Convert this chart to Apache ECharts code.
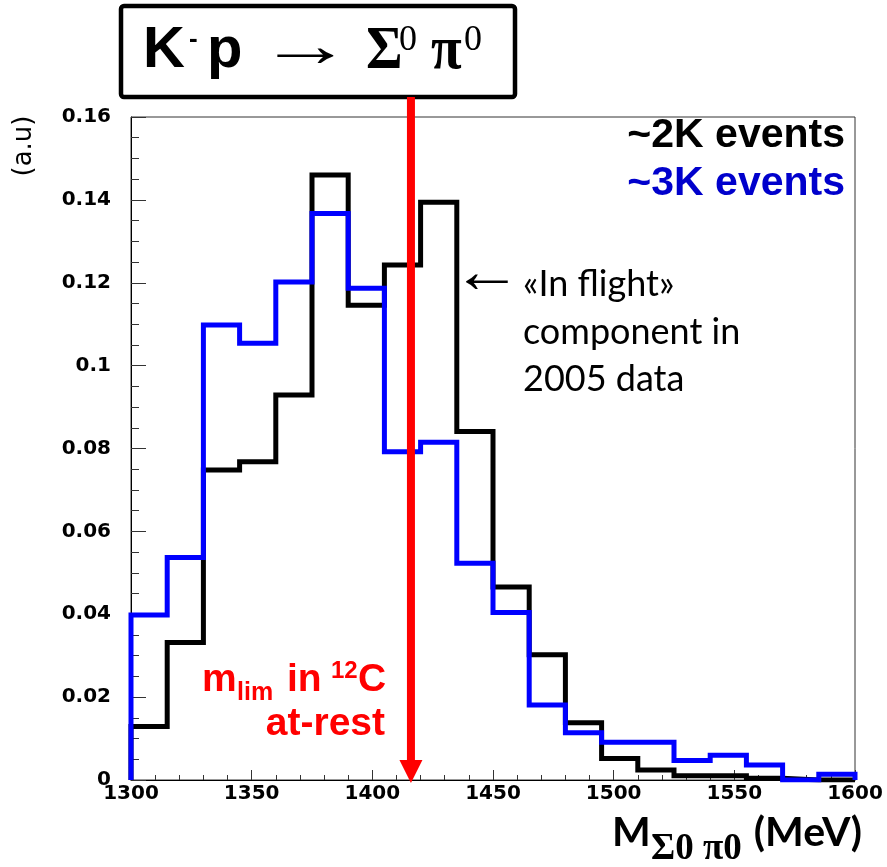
<!DOCTYPE html>
<html><head><meta charset="utf-8">
<script src="https://cdn.jsdelivr.net/npm/echarts@6/dist/echarts.min.js"></script>
<style>html,body{margin:0;padding:0;background:#fff}#c{width:887px;height:867px}</style>
</head><body><div id="c"></div>
<script>
// Histogram bins: left edges (MeV), 15 MeV wide
const binLeftEdges = [1300,1315,1330,1345,1360,1375,1390,1405,1420,1435,1450,1465,1480,1495,1510,1525,1540,1555,1570,1585];
const binWidth = 15;
// ~2K events (black)
const events2K = [0.0129,0.0332,0.0748,0.0768,0.0929,0.1460,0.1146,0.1243,0.1394,0.0841,0.0466,0.0302,0.0138,0.0052,0.0024,0.0010,0.0010,0.0004,0,0];
// ~3K events (blue)
const events3K = [0.0398,0.0537,0.1098,0.1054,0.1202,0.1367,0.1187,0.0792,0.0815,0.0523,0.0404,0.0181,0.0114,0.0091,0.0091,0.0047,0.0060,0.0036,0,0.0014];
// axis ranges / ticks
const xRange = [1300, 1600];
const xTickStep = 50;
const yRange = [0, 0.16];
const yTickStep = 0.02;
// limit mass marker (MeV)
const mLimit = 1416;

function stepData(vals){
  const d = [[binLeftEdges[0], 0]];
  vals.forEach((v,i)=>d.push([binLeftEdges[i], v]));
  const last = binLeftEdges[binLeftEdges.length-1] + binWidth;
  d.push([last, vals[vals.length-1]]);
  d.push([last, 0]);
  return d;
}

const chart = echarts.init(document.getElementById('c'), null, {renderer:'canvas'});
const labelFont = {fontFamily:'DejaVu Sans', fontWeight:'bold', fontSize:20, color:'#000'};
chart.setOption({
  animation:false,
  grid:{left:131, right:32, top:117, bottom:87, show:true, borderColor:'#333', borderWidth:1, backgroundColor:'transparent'},
  xAxis:{type:'value', min:xRange[0], max:xRange[1], interval:xTickStep,
    axisLine:{lineStyle:{color:'#000', width:1}},
    axisTick:{inside:true, length:10, lineStyle:{color:'#333', width:1}},
    minorTick:{show:true, splitNumber:5, length:5, lineStyle:{color:'#333', width:1}},
    splitLine:{show:false},
    axisLabel:Object.assign({margin:4, formatter:v=>String(v)}, labelFont)},
  yAxis:{type:'value', min:yRange[0], max:yRange[1], interval:yTickStep,
    axisLine:{show:true, lineStyle:{color:'#000', width:1}},
    axisTick:{show:true, inside:true, length:15, lineStyle:{color:'#333', width:1}},
    minorTick:{show:true, splitNumber:4, length:8, lineStyle:{color:'#333', width:1}},
    splitLine:{show:false},
    axisLabel:Object.assign({margin:20}, labelFont)},
  series:[
    {name:'~2K events', type:'line', step:'end', data:stepData(events2K), symbol:'none', z:3,
      lineStyle:{color:'#000', width:5, join:'miter', cap:'butt'}},
    {name:'~3K events', type:'line', step:'end', data:stepData(events3K), symbol:'none', z:4,
      lineStyle:{color:'#0000ff', width:5, join:'miter', cap:'butt'}}
  ]
});

const p0 = chart.convertToPixel({xAxisIndex:0, yAxisIndex:0}, [mLimit, 0]);
const ax = p0[0], ay = p0[1];
const red = '#ff0000';
chart.setOption({graphic:[
  // title box
  {type:'rect', shape:{x:121, y:6, width:394, height:91, r:3}, style:{fill:'#fff', stroke:'#000', lineWidth:4.5}, z:50},
  {type:'text', x:143, y:51, style:{text:'K', font:'bold 58px "Liberation Sans"', fill:'#000', verticalAlign:'middle'}, z:51},
  {type:'text', x:189, y:40, style:{text:'-', font:'bold 26px "Liberation Sans"', fill:'#000', verticalAlign:'middle'}, z:51},
  {type:'text', x:207, y:51, style:{text:'p', font:'bold 58px "Liberation Sans"', fill:'#000', verticalAlign:'middle'}, z:51},
  {type:'text', x:305, y:50, scaleX:1.75, scaleY:1.15, style:{text:'→', font:'54px "Liberation Serif"', fill:'#000', align:'center', verticalAlign:'middle'}, z:51},
  {type:'text', x:366, y:52, scaleY:1.08, style:{text:'Σ', font:'bold 56px "Liberation Serif"', fill:'#000', verticalAlign:'middle'}, z:51},
  {type:'text', x:399, y:41, style:{text:'0', font:'36px "Liberation Serif"', fill:'#000', verticalAlign:'middle'}, z:51},
  {type:'text', x:431, y:52, scaleY:1.08, style:{text:'π', font:'bold 56px "Liberation Serif"', fill:'#000', verticalAlign:'middle'}, z:51},
  {type:'text', x:464, y:41, style:{text:'0', font:'36px "Liberation Serif"', fill:'#000', verticalAlign:'middle'}, z:51},
  // red arrow at m_lim
  {type:'line', shape:{x1:ax, y1:97, x2:ax, y2:ay-18}, style:{stroke:red, lineWidth:8}, z:60},
  {type:'polygon', shape:{points:[[ax-11.5, ay-20],[ax+11.5, ay-20],[ax, ay+3]]}, style:{fill:red}, z:60},
  // legend texts
  {type:'text', x:845, y:136, style:{text:'~2K events', font:'bold 41px "Liberation Sans"', fill:'#000', align:'right', verticalAlign:'middle'}, z:51},
  {type:'text', x:845, y:184, style:{text:'~3K events', font:'bold 41px "Liberation Sans"', fill:'#0000cc', align:'right', verticalAlign:'middle'}, z:51},
  // in-flight annotation
  {type:'text', x:487, y:276, scaleX:1.6, scaleY:1.4, style:{text:'←', font:'44px "Liberation Serif"', fill:'#000', align:'center', verticalAlign:'middle'}, z:51},
  {type:'text', x:523, y:284, style:{text:'«In flight»', font:'36px Lato', fill:'#000', verticalAlign:'middle'}, z:51},
  {type:'text', x:523, y:332, style:{text:'component in', font:'36px Lato', fill:'#000', verticalAlign:'middle'}, z:51},
  {type:'text', x:523, y:379, style:{text:'2005 data', font:'36px Lato', fill:'#000', verticalAlign:'middle'}, z:51},
  // m_lim text
  {type:'text', x:202, y:680, style:{text:'m', font:'bold 39px "Liberation Sans"', fill:red, verticalAlign:'middle'}, z:51},
  {type:'text', x:237, y:693, style:{text:'lim', font:'bold 25px "Liberation Sans"', fill:red, verticalAlign:'middle'}, z:51},
  {type:'text', x:287, y:680, style:{text:'in', font:'bold 39px "Liberation Sans"', fill:red, verticalAlign:'middle'}, z:51},
  {type:'text', x:331, y:671, style:{text:'12', font:'bold 24px "Liberation Sans"', fill:red, verticalAlign:'middle'}, z:51},
  {type:'text', x:358, y:680, style:{text:'C', font:'bold 39px "Liberation Sans"', fill:red, verticalAlign:'middle'}, z:51},
  {type:'text', x:385, y:724, style:{text:'at-rest', font:'bold 39px "Liberation Sans"', fill:red, align:'right', verticalAlign:'middle'}, z:51},
  // x-axis title
  {type:'text', x:612, y:833, style:{text:'M', font:'bold 41px Lato', fill:'#000', verticalAlign:'middle'}, z:51},
  {type:'text', x:651, y:849, style:{text:'Σ0 π0', font:'bold 37px "Liberation Serif"', fill:'#000', verticalAlign:'middle'}, z:51},
  {type:'text', x:862, y:833, style:{text:'(MeV)', font:'bold 41px Lato', fill:'#000', align:'right', verticalAlign:'middle'}, z:51},
  // y-axis title
  {type:'text', x:24, y:146, rotation:Math.PI/2, style:{text:'(a.u)', font:'26px "DejaVu Sans"', fill:'#000', align:'center', verticalAlign:'middle'}, z:51}
]});
</script></body></html>
